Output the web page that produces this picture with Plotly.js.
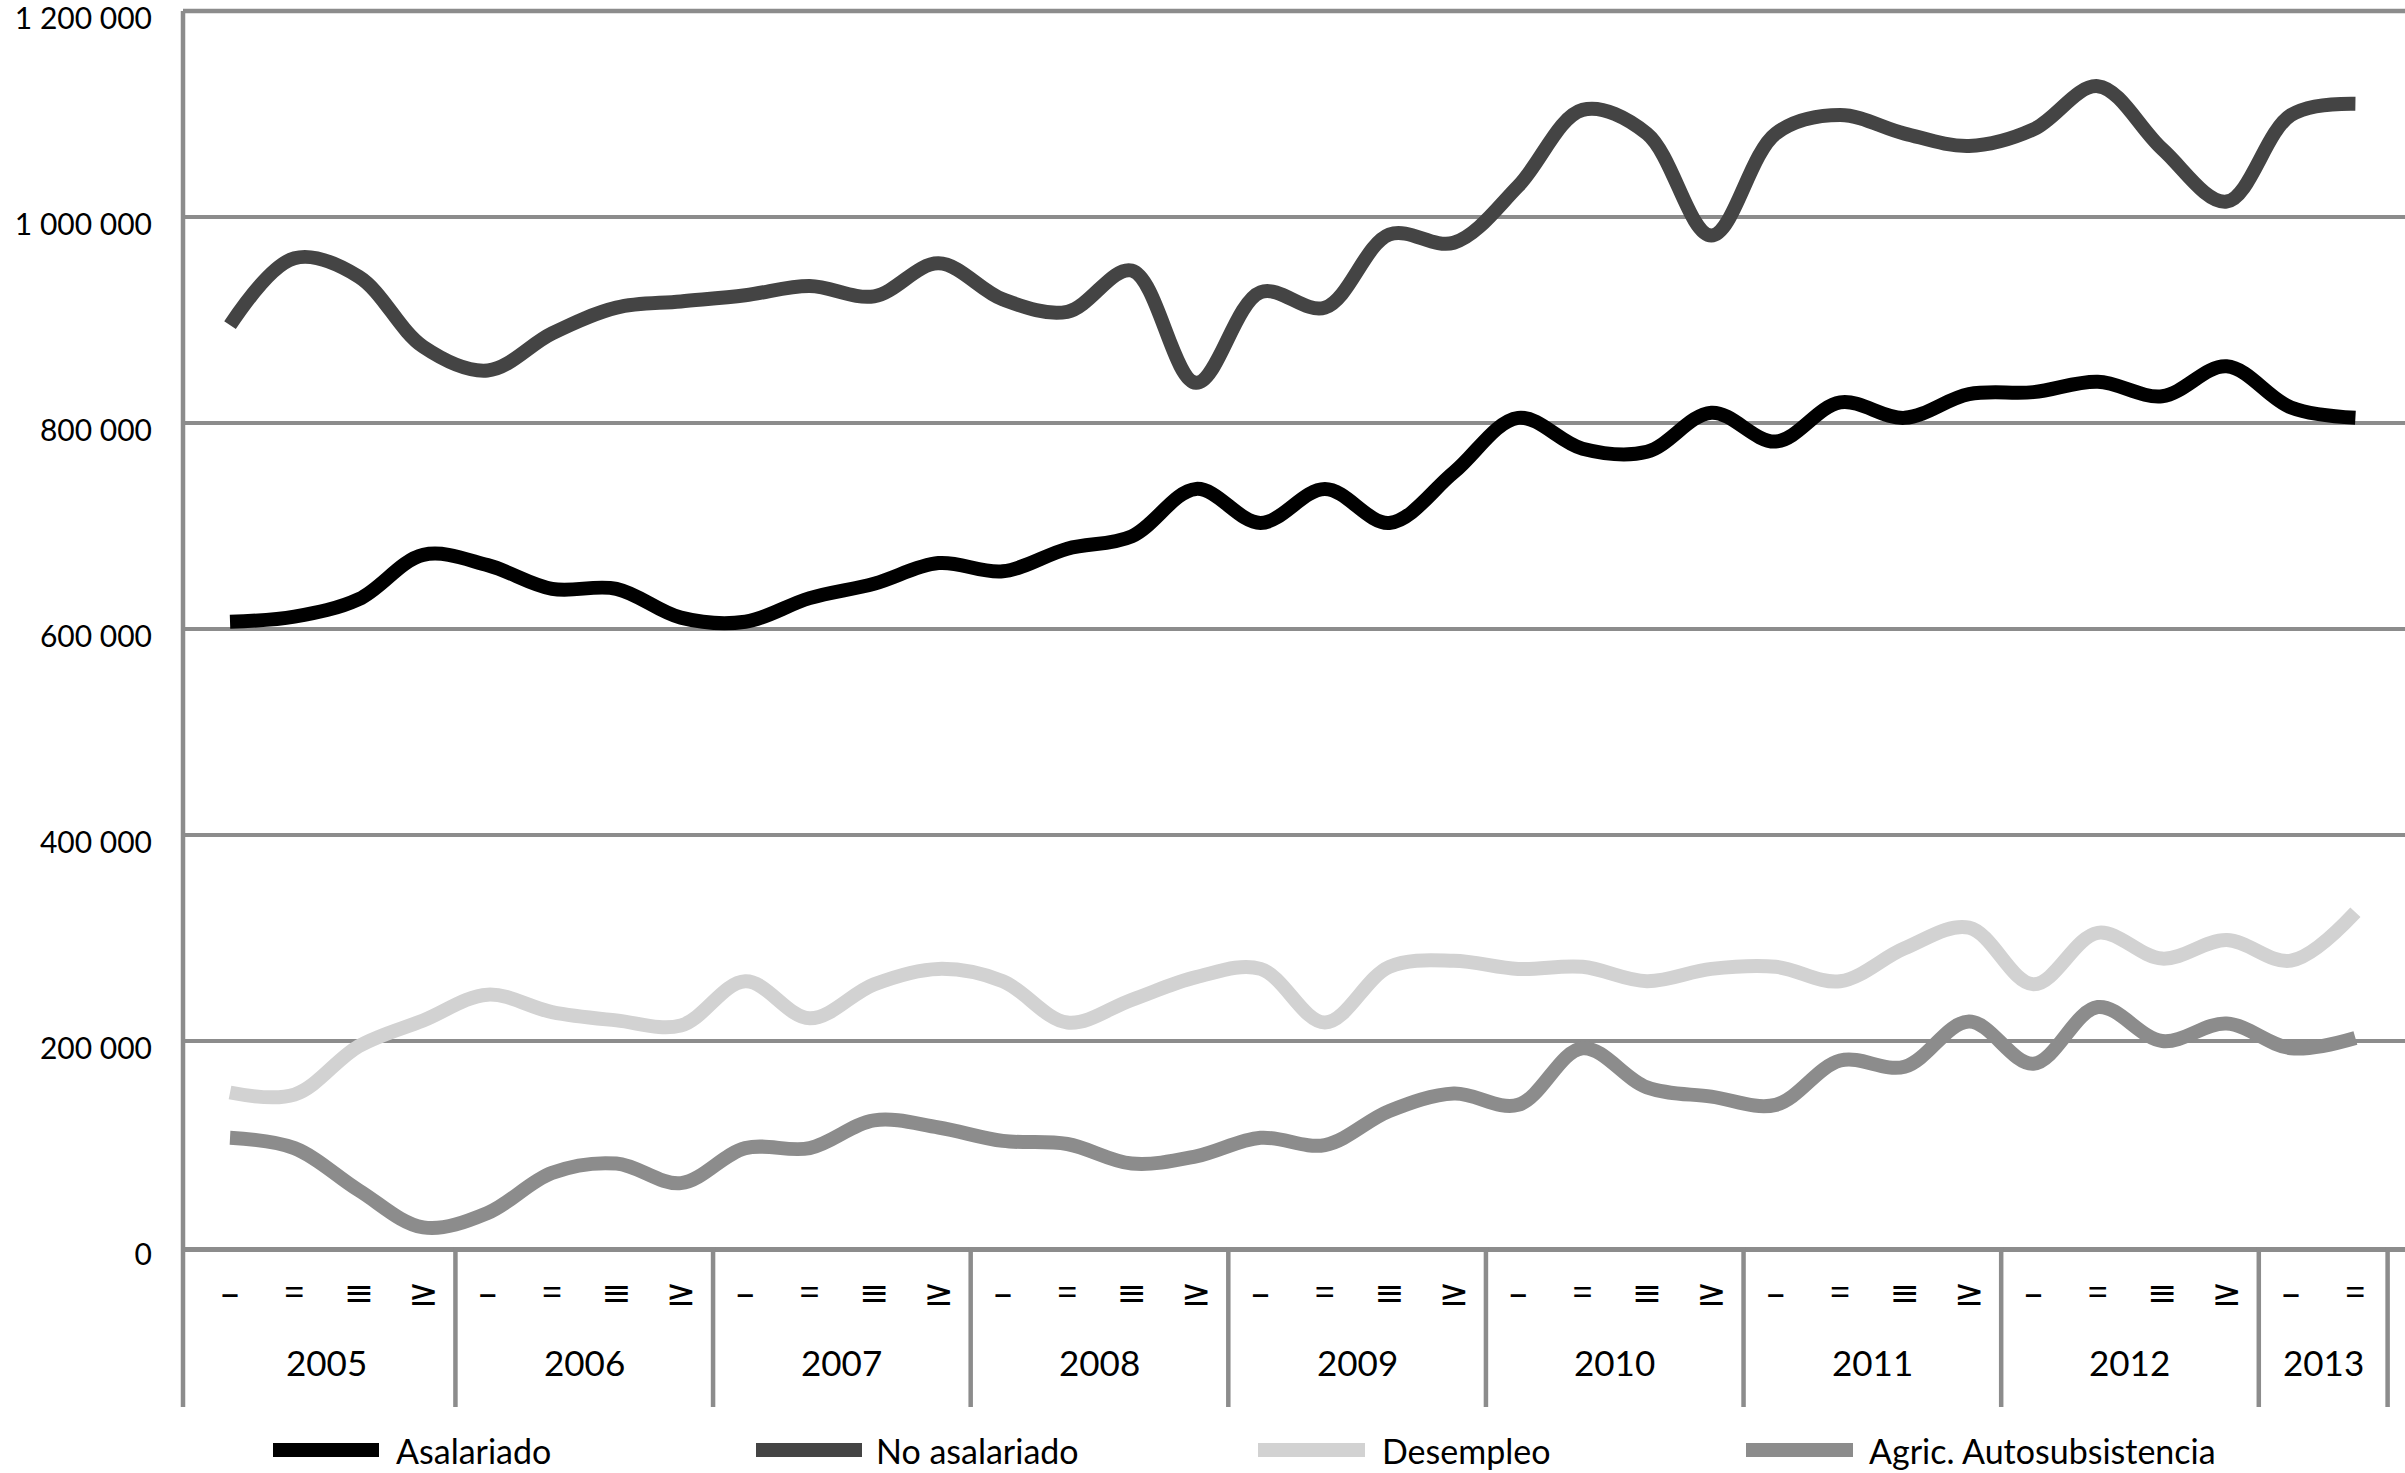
<!DOCTYPE html>
<html><head><meta charset="utf-8">
<script src="https://cdn.plot.ly/plotly-3.0.1.min.js"></script>
<style>html,body{margin:0;padding:0;background:#fff}#chart{width:2405px;height:1473px}</style>
</head><body><div id="chart"></div>
<script>
// ---- data ----
const categoryYear = ['2005','2005','2005','2005','2006','2006','2006','2006','2007','2007','2007','2007',
  '2008','2008','2008','2008','2009','2009','2009','2009','2010','2010','2010','2010',
  '2011','2011','2011','2011','2012','2012','2012','2012','2013','2013'];
const categoryQuarter = ['–','=','≡','≥','–','=','≡','≥','–','=','≡','≥',
  '–','=','≡','≥','–','=','≡','≥','–','=','≡','≥',
  '–','=','≡','≥','–','=','≡','≥','–','='];
const seriesNames = ['Asalariado','No asalariado','Desempleo','Agric. Autosubsistencia'];
const asalariado = [607000,612000,629000,672000,662000,639000,639000,611000,607000,630000,644000,664000,
  656000,678000,690000,736000,703000,736000,703000,752000,805000,775000,772000,810000,
  782000,820000,805000,828000,830000,840000,826000,855000,815000,805000];
const noAsalariado = [895000,960000,942000,874000,851000,887000,912000,918000,924000,933000,923000,955000,
  920000,908000,948000,839000,927000,912000,983000,975000,1030000,1104000,1081000,982000,
  1081000,1099000,1081000,1069000,1085000,1127000,1066000,1015000,1099000,1110000];
const desempleo = [150000,148000,195000,220000,245000,228000,220000,215000,258000,222000,255000,270000,
  258000,218000,240000,262000,270000,218000,272000,278000,270000,272000,258000,270000,
  272000,258000,290000,310000,255000,305000,280000,298000,278000,325000];
const agricAutosubsistencia = [106000,96000,55000,19000,33000,72000,81000,62000,96000,96000,123000,116000,
  103000,100000,81000,88000,106000,99000,132000,149000,138000,193000,155000,146000,
  138000,181000,175000,219000,178000,233000,200000,217000,193000,203000];
const yTickValues = [0,200000,400000,600000,800000,1000000,1200000];
const yTickLabels = ['0','200 000','400 000','600 000','800 000','1 000 000','1 200 000'];

// ---- style ----
const seriesColors = ['#000000','#444444','#d2d2d2','#8c8c8c'];
const gridColor = '#8c8c8c';
const FONT = 'Lato, "Open Sans", sans-serif';
const SYMFONT = '"Noto Sans", "DejaVu Sans", sans-serif';
const W = 2405, H = 1473;
const mL = 183, mR = 0, mT = 3, mB = 226;
const plotW = W - mL - mR, plotH = H - mT - mB;
const axisY = H - mB;
// top tick sits 11 px from the top of the picture
const yTop = yTickValues[yTickValues.length - 1];
const yMax = yTop * plotH / (axisY - 11);
const xMin = -0.73, xMax = 33.77, xRightEdge = 33.71;
const sepBottom = -(1407 - axisY) / plotH;
const yearLabelY = -(1362 - axisY) / plotH;
const legendY = -(1450 - axisY) / plotH;
const px2paperX = X => (X - mL) / plotW;

const xIdx = categoryQuarter.map((_, i) => i);
const allSeries = [asalariado, noAsalariado, desempleo, agricAutosubsistencia];
const drawOrder = [3, 2, 1, 0];
const traces = drawOrder.map(k => ({
  type: 'scatter', mode: 'lines', name: seriesNames[k],
  x: xIdx, y: allSeries[k],
  line: {color: seriesColors[k], width: 14, shape: 'spline', smoothing: 1},
  hoverinfo: 'skip'
}));

// year groups
const groups = [];
categoryYear.forEach((y, i) => {
  if (!groups.length || groups[groups.length - 1].year !== y) groups.push({year: y, start: i, end: i});
  else groups[groups.length - 1].end = i;
});

const shapes = [];
const annotations = [];
shapes.push({type: 'line', xref: 'paper', yref: 'y', x0: 0, x1: 0, y0: 0, y1: yTop,
  line: {color: gridColor, width: 4.5}, layer: 'below'});
shapes.push({type: 'line', xref: 'paper', yref: 'paper', x0: 0, x1: 0, y0: sepBottom, y1: 0,
  line: {color: gridColor, width: 4.5}});
shapes.push({type: 'line', xref: 'paper', yref: 'y', x0: 0, x1: 1, y0: yTop, y1: yTop,
  line: {color: gridColor, width: 4.5}, layer: 'below'});
groups.forEach((g, gi) => {
  const lo = Math.max(g.start - 0.5, xMin);
  const hi = Math.min(g.end + 0.5, xRightEdge);
  if (gi > 0) shapes.push({type: 'line', xref: 'x', yref: 'paper', x0: lo, x1: lo, y0: sepBottom, y1: 0,
      line: {color: gridColor, width: 4.5}});
  if (gi === groups.length - 1) shapes.push({type: 'line', xref: 'x', yref: 'paper', x0: hi, x1: hi, y0: sepBottom, y1: 0,
      line: {color: gridColor, width: 4.5}});
  annotations.push({xref: 'x', yref: 'paper', x: (lo + hi) / 2, y: yearLabelY, text: g.year, showarrow: false,
    xanchor: 'center', yanchor: 'middle', font: {family: FONT, size: 35, color: '#000'}});
});

// custom legend
const legendSym = [[273, 379], [756, 862], [1258, 1365], [1746, 1853]];
const legendText = [394, 874, 1380, 1867];
seriesNames.forEach((n, k) => {
  shapes.push({type: 'line', xref: 'paper', yref: 'paper', x0: px2paperX(legendSym[k][0]), x1: px2paperX(legendSym[k][1]),
    y0: legendY, y1: legendY, line: {color: seriesColors[k], width: 14}});
  annotations.push({xref: 'paper', yref: 'paper', x: px2paperX(legendText[k]), y: legendY, text: n, showarrow: false,
    xanchor: 'left', yanchor: 'middle', font: {family: FONT, size: 34, color: '#000'}});
});

const layout = {
  width: W, height: H,
  margin: {l: mL, r: mR, t: mT, b: mB, pad: 0},
  paper_bgcolor: '#fff', plot_bgcolor: '#fff',
  showlegend: false,
  font: {family: FONT, color: '#000'},
  xaxis: {
    range: [xMin, xMax], showgrid: false, zeroline: false,
    showline: true, linecolor: gridColor, linewidth: 4.5,
    tickmode: 'array', tickvals: xIdx, ticktext: categoryQuarter,
    ticks: '', ticklabelstandoff: 10,
    tickfont: {family: SYMFONT, size: 36, color: '#000'}
  },
  yaxis: {
    range: [0, yMax], showgrid: true, gridcolor: gridColor, gridwidth: 4.5,
    zeroline: false, showline: false,
    tickmode: 'array', tickvals: yTickValues, ticktext: yTickLabels,
    ticks: '', ticklabelstandoff: 30, ticklabeloverflow: 'allow', ticklabelshift: 7,
    tickfont: {family: FONT, size: 30, color: '#000'}
  },
  shapes: shapes,
  annotations: annotations
};
Plotly.newPlot('chart', traces, layout, {staticPlot: true, displayModeBar: false});
</script></body></html>
